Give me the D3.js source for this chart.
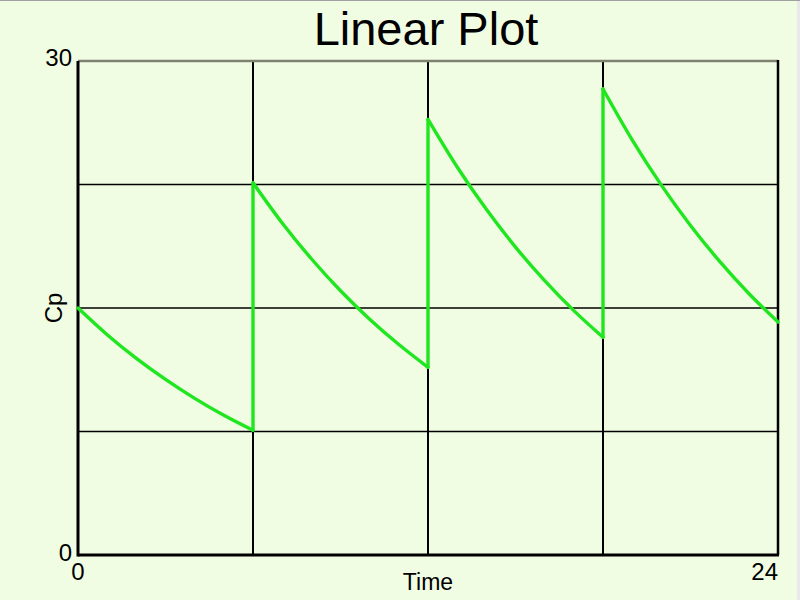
<!DOCTYPE html>
<html><head><meta charset="utf-8">
<script src="https://cdn.jsdelivr.net/npm/d3@7"></script>
<style>
html,body{margin:0;padding:0;background:#e9e9e9;}
svg{display:block;}
</style></head>
<body>
<script>
// Data
const doseTimes = [0, 6, 12, 18];
const segmentHours = [0, 1, 2, 3, 4, 5, 6];
const seg1 = [15.0, 13.38, 11.94, 10.66, 9.51, 8.48, 7.57];
const seg2 = [22.6, 20.16, 17.99, 16.05, 14.32, 12.78, 11.40];
const seg3 = [26.45, 23.56, 20.99, 18.70, 16.66, 14.84, 13.22];
const seg4 = [28.3, 25.21, 22.46, 20.01, 17.83, 15.88, 14.15];
const segments = [seg1, seg2, seg3, seg4];
const xTicks = [0, 24];
const yTicks = [0, 30];
const xGrid = [6, 12, 18];
const yGrid = [7.5, 15, 22.5];

const W = 800, H = 600;
const svg = d3.select("body").append("svg").attr("width", W).attr("height", H);
svg.append("rect").attr("x",0).attr("y",0).attr("width",797).attr("height",H).attr("fill","#f1fde3");
svg.append("line").attr("x1",0).attr("x2",W).attr("y1",0.5).attr("y2",0.5).attr("stroke","#a0a0a0").attr("stroke-width",1);

const L = 78, R = 778, T = 61, B = 555;
const x = d3.scaleLinear().domain([0, 24]).range([L, R]);
const y = d3.scaleLinear().domain([0, 30]).range([B, T]);
const font = "Liberation Sans, Arial, Helvetica, sans-serif";

// grid
svg.append("g").selectAll("line").data(xGrid).join("line")
  .attr("x1", d => x(d)).attr("x2", d => x(d)).attr("y1", T).attr("y2", B)
  .attr("stroke", "#000").attr("stroke-width", 2);
svg.append("g").selectAll("line").data(yGrid).join("line")
  .attr("x1", L).attr("x2", R).attr("y1", d => y(d)).attr("y2", d => y(d))
  .attr("stroke", "#000").attr("stroke-width", 1.5);

// frame
svg.append("line").attr("x1", L).attr("x2", R).attr("y1", T).attr("y2", T).attr("stroke", "#7f8270").attr("stroke-width", 2.5);
svg.append("line").attr("x1", R).attr("x2", R).attr("y1", T - 1).attr("y2", B).attr("stroke", "#000").attr("stroke-width", 2.5);
svg.append("line").attr("x1", L).attr("x2", R + 1).attr("y1", B).attr("y2", B).attr("stroke", "#000").attr("stroke-width", 3);
svg.append("line").attr("x1", L).attr("x2", L).attr("y1", T).attr("y2", B + 1.5).attr("stroke", "#000").attr("stroke-width", 3);

// curve
const line = d3.line().x(d => x(d[0])).y(d => y(d[1])).curve(d3.curveMonotoneX);
const green = "#1fe61f";
const g = svg.append("g");
segments.forEach((seg, i) => {
  const pts = seg.map((v, j) => [doseTimes[i] + segmentHours[j], v]);
  g.append("path").attr("d", line(pts)).attr("fill", "none")
    .attr("stroke", green).attr("stroke-width", 3.4).attr("stroke-linejoin", "round").attr("stroke-linecap", "round");
  if (i > 0) {
    const prev = segments[i - 1];
    g.append("line")
      .attr("x1", x(doseTimes[i])).attr("x2", x(doseTimes[i]))
      .attr("y1", y(prev[prev.length - 1])).attr("y2", y(seg[0]))
      .attr("stroke", green).attr("stroke-width", 3.4).attr("stroke-linecap", "round");
  }
});

// tick labels
svg.append("g").selectAll("text").data(yTicks).join("text")
  .attr("x", 72).attr("y", d => d === 0 ? 561 : 66)
  .attr("text-anchor", "end").attr("font-family", font).attr("font-size", 24).attr("fill", "#000")
  .text(d => d);
svg.append("g").selectAll("text").data(xTicks).join("text")
  .attr("x", d => d === 0 ? x(d) : R).attr("y", 580)
  .attr("text-anchor", d => d === 0 ? "middle" : "end")
  .attr("font-family", font).attr("font-size", 24).attr("fill", "#000")
  .text(d => d);

// axis labels & title
svg.append("text").attr("x", x(12)).attr("y", 590).attr("text-anchor", "middle")
  .attr("font-family", font).attr("font-size", 23).attr("fill", "#000").text("Time");
svg.append("text").attr("transform", "translate(62," + y(15) + ") rotate(-90)").attr("text-anchor", "middle")
  .attr("font-family", font).attr("font-size", 24).attr("fill", "#000").text("Cp");
svg.append("text").attr("x", 426).attr("y", 45).attr("text-anchor", "middle")
  .attr("font-family", font).attr("font-size", 47).attr("fill", "#000").text("Linear Plot");
</script>
</body></html>
